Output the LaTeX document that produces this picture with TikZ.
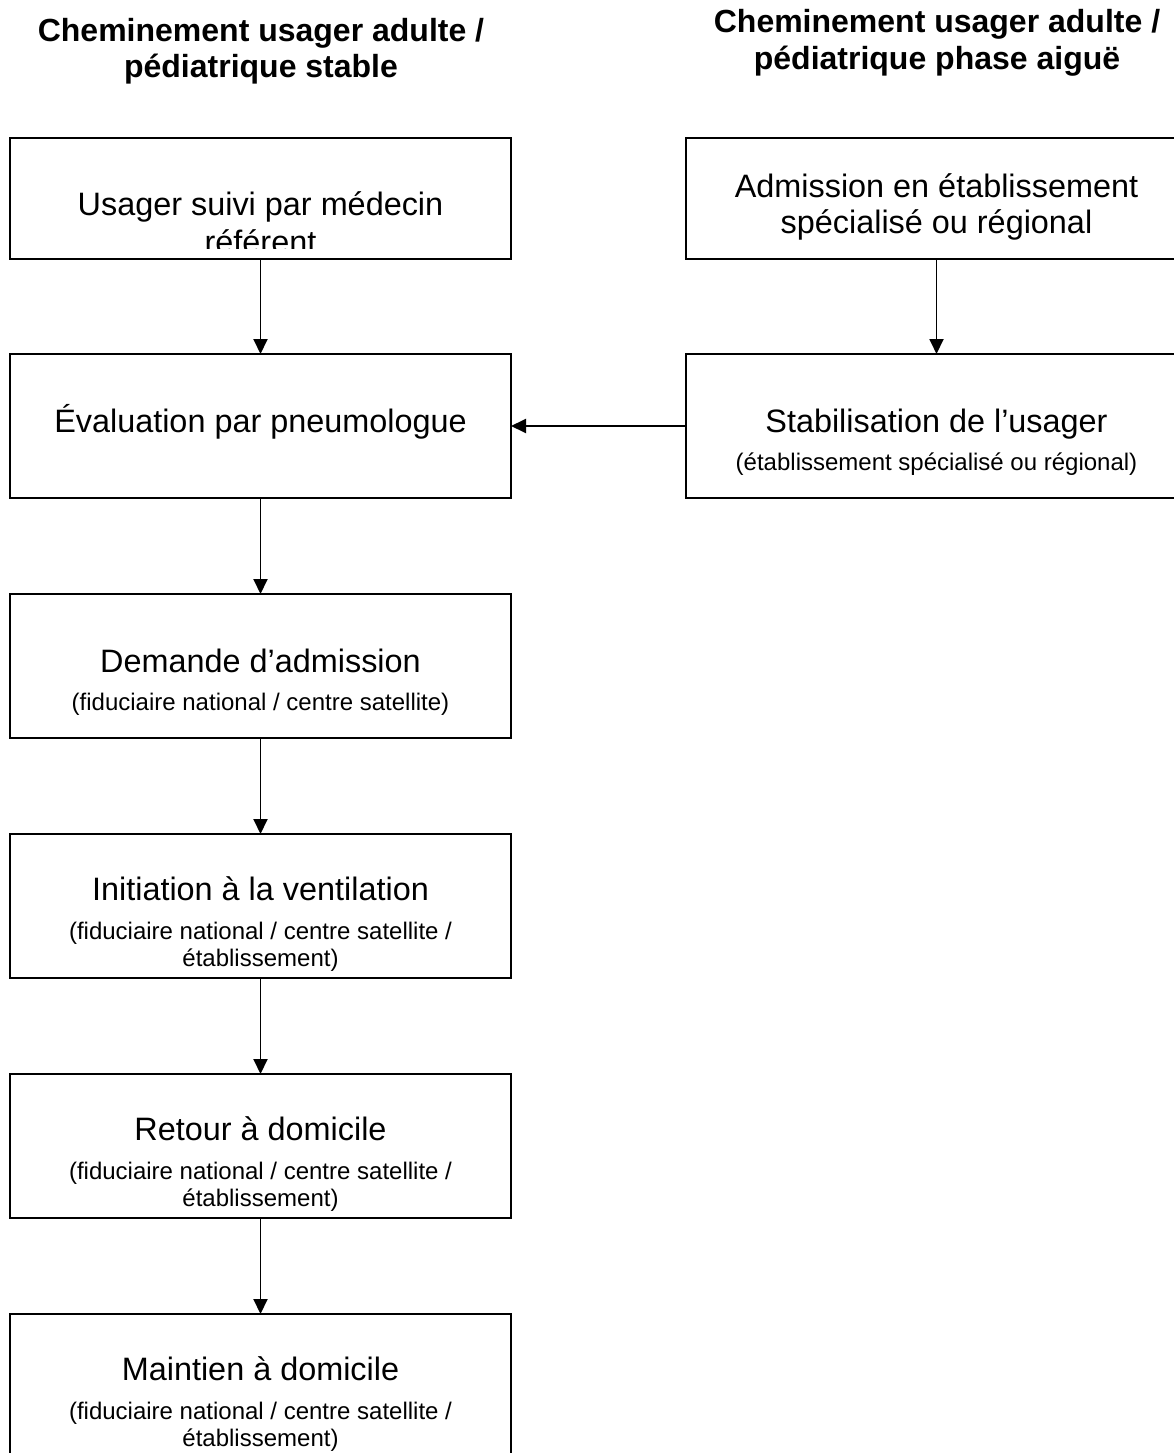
\documentclass[tikz,border=0pt]{standalone}
\usepackage{fontspec}
\setmainfont{Liberation Sans}
\usetikzlibrary{arrows.meta}
\begin{document}
\begin{tikzpicture}[x=1pt,y=-1pt,
 box/.style={draw,line width=1.9pt,minimum width=501pt,inner sep=0pt,outer sep=0pt},
 maintxt/.style={anchor=base,font=\fontsize{32.4}{38}\selectfont,inner sep=0pt},
 subtxt/.style={anchor=base,font=\fontsize{24}{27}\selectfont,inner sep=0pt},
 headtxt/.style={anchor=base,font=\fontsize{32}{37}\selectfont\bfseries,inner sep=0pt},
 arr/.style={line width=1.9pt,-{Triangle[width=14pt,length=15pt]}}]
\useasboundingbox (0,0) rectangle (1174,1453);
% headings
\node[headtxt] (hl1) at (261,42) {Cheminement usager adulte /};
\node[headtxt] (hl2) at (261,78) {pédiatrique stable};
\node[headtxt] (hr1) at (937,33) {Cheminement usager adulte /};
\node[headtxt] (hr2) at (937,70) {pédiatrique phase aiguë};
% boxes left
\node[box,minimum height=121pt] (b1) at (260.5,198.5) {};
\node[box,minimum height=144pt] (b2) at (260.5,426) {};
\node[box,minimum height=144pt] (b3) at (260.5,666) {};
\node[box,minimum height=144pt] (b4) at (260.5,906) {};
\node[box,minimum height=144pt] (b5) at (260.5,1146) {};
\node[box,minimum height=144pt] (b6) at (260.5,1386) {};
% boxes right
\node[box,minimum height=121pt] (rA) at (936.5,198.5) {};
\node[box,minimum height=144pt] (rB) at (936.5,426) {};
% texts
\begin{scope}
\clip (11,139) rectangle (510,248.5);
\node[maintxt] (t1a) at (260.5,215) {Usager suivi par médecin};
\node[maintxt] (t1b) at (260.5,253) {référent};
\end{scope}
\node[maintxt] (t2) at (260.5,432) {Évaluation par pneumologue};
\node[maintxt] (t3) at (260.5,672) {Demande d’admission};
\node[subtxt] (t3s) at (260.5,710) {(fiduciaire national / centre satellite)};
\node[maintxt] (t4) at (260.5,900) {Initiation à la ventilation};
\node[subtxt] (t4s) at (260.5,939) {(fiduciaire national / centre satellite /};
\node[subtxt] (t4t) at (260.5,966) {établissement)};
\node[maintxt] (t5) at (260.5,1140) {Retour à domicile};
\node[subtxt] (t5s) at (260.5,1179) {(fiduciaire national / centre satellite /};
\node[subtxt] (t5t) at (260.5,1206) {établissement)};
\node[maintxt] (t6) at (260.5,1380) {Maintien à domicile};
\node[subtxt] (t6s) at (260.5,1419) {(fiduciaire national / centre satellite /};
\node[subtxt] (t6t) at (260.5,1446) {établissement)};
\node[maintxt] (tA1) at (936.5,197) {Admission en établissement};
\node[maintxt] (tA2) at (936.5,233) {spécialisé ou régional};
\node[maintxt] (tB) at (936.5,432) {Stabilisation de l’usager};
\node[subtxt] (tBs) at (936.5,470) {(établissement spécialisé ou régional)};
% arrows
\draw[arr] (b1.south) -- (b2.north);
\draw[arr] (b2.south) -- (b3.north);
\draw[arr] (b3.south) -- (b4.north);
\draw[arr] (b4.south) -- (b5.north);
\draw[arr] (b5.south) -- (b6.north);
\draw[arr] (rA.south) -- (rB.north);
\draw[arr] (rB.west) -- (b2.east);
\end{tikzpicture}
\end{document}
